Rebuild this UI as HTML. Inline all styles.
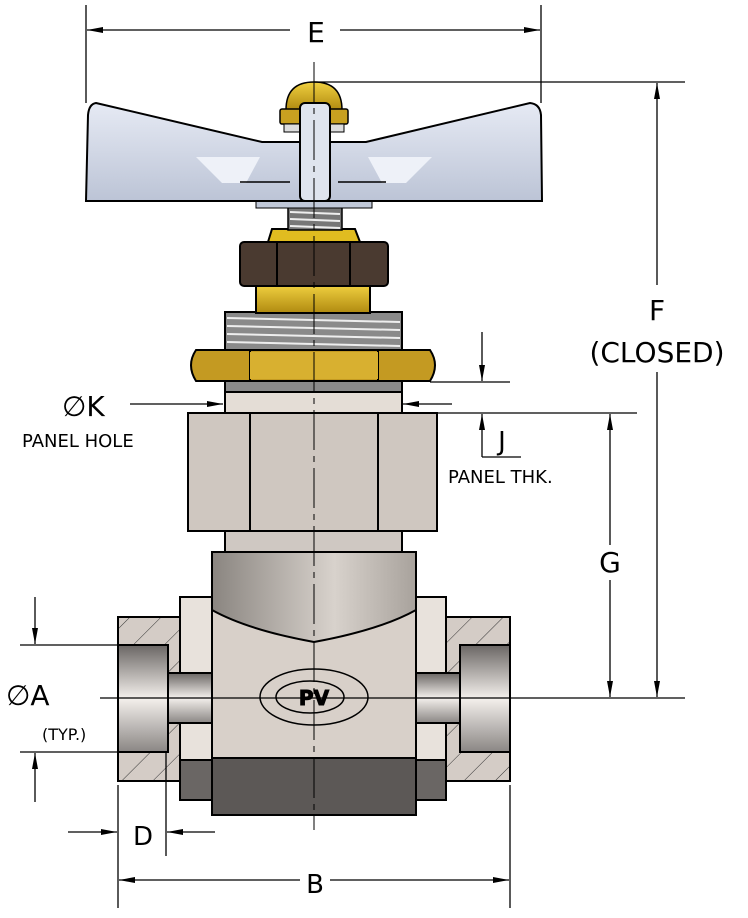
<!DOCTYPE html>
<html><head><style>
html,body{margin:0;padding:0;background:#fff;}
svg{display:block;}
text{font-family:"DejaVu Sans","Liberation Sans",sans-serif;fill:#000;}
</style></head><body>
<svg width="748" height="918" viewBox="0 0 748 918" xmlns="http://www.w3.org/2000/svg">
<defs>
<marker id="ar" viewBox="0 0 16 6" refX="16" refY="3" markerWidth="16" markerHeight="6" markerUnits="userSpaceOnUse" orient="auto"><path d="M0,0L16,3L0,6z" fill="#000"/></marker>
<linearGradient id="dome" x1="0" x2="1"><stop offset="0" stop-color="#8a8580"/><stop offset="0.6" stop-color="#d8d2cc"/><stop offset="1" stop-color="#a8a29c"/></linearGradient>
<linearGradient id="bore" x1="0" y1="0" x2="0" y2="1"><stop offset="0" stop-color="#6a6664"/><stop offset="0.5" stop-color="#f4f0ec"/><stop offset="1" stop-color="#8a8684"/></linearGradient>
<linearGradient id="brass" x1="0" y1="0" x2="0" y2="1"><stop offset="0" stop-color="#f0d040"/><stop offset="1" stop-color="#b08a10"/></linearGradient>
<linearGradient id="handle" x1="0" y1="0" x2="0" y2="1"><stop offset="0" stop-color="#e6eaf4"/><stop offset="1" stop-color="#bcc4d6"/></linearGradient>
<pattern id="hatch" patternUnits="userSpaceOnUse" width="22" height="22" patternTransform="rotate(45)"><rect width="22" height="22" fill="#d4ccc6"/><line x1="0" y1="0" x2="0" y2="22" stroke="#333" stroke-width="1"/></pattern>
</defs>
<g stroke-width="1.3">
<rect x="118" y="617" width="94" height="164" fill="url(#hatch)" stroke="#000" stroke-width="2"/>
<rect x="416" y="617" width="94" height="164" fill="url(#hatch)" stroke="#000" stroke-width="2"/>
<rect x="180" y="597" width="32" height="203" fill="#e8e2dc" stroke="#000" stroke-width="2"/>
<rect x="416" y="597" width="30" height="203" fill="#e8e2dc" stroke="#000" stroke-width="2"/>
<rect x="180" y="760" width="32" height="40" fill="#6a6664" stroke="#000" stroke-width="2"/>
<rect x="416" y="760" width="30" height="40" fill="#6a6664" stroke="#000" stroke-width="2"/>
<rect x="118" y="645" width="50" height="107" fill="url(#bore)" stroke="#000" stroke-width="2"/>
<rect x="460" y="645" width="50" height="107" fill="url(#bore)" stroke="#000" stroke-width="2"/>
<rect x="168" y="673" width="50" height="50" fill="url(#bore)" stroke="#000" stroke-width="2"/>
<rect x="410" y="673" width="50" height="50" fill="url(#bore)" stroke="#000" stroke-width="2"/>
<rect x="212" y="552" width="204" height="263" fill="#d8d0c9" stroke="#000" stroke-width="2"/>
<rect x="212" y="758" width="204" height="57" fill="#5c5856" stroke="#000" stroke-width="2"/>
<path d="M212,552 L416,552 L416,610 Q380,630 314,642 Q248,630 212,610 Z" fill="url(#dome)" stroke="#000" stroke-width="2"/>
<ellipse cx="314" cy="697" rx="54" ry="28" fill="none" stroke="#000" stroke-width="1.5"/>
<ellipse cx="310" cy="697" rx="34" ry="16" fill="none" stroke="#000" stroke-width="1.5"/>
<text x="314" y="705" font-size="20" font-weight="bold" text-anchor="middle" fill="none" stroke="#000" stroke-width="1">PV</text>
<rect x="225" y="530" width="177" height="22" fill="#cfc8c2" stroke="#000" stroke-width="2"/>
<rect x="188" y="413" width="249" height="118" fill="#cfc7c0" stroke="#000" stroke-width="2"/>
<line x1="250" y1="413" x2="250" y2="531" stroke="#000" stroke-width="2"/>
<line x1="378" y1="413" x2="378" y2="531" stroke="#000" stroke-width="2"/>
<rect x="225" y="390" width="177" height="23" fill="#e4ddd6" stroke="#000" stroke-width="2"/>
<rect x="225" y="312" width="177" height="42" fill="#8a8a8a" stroke="#000" stroke-width="2"/>
<g stroke="#eee" stroke-width="2"><line x1="227" y1="318" x2="400" y2="322"/><line x1="227" y1="326" x2="400" y2="330"/><line x1="227" y1="334" x2="400" y2="338"/><line x1="227" y1="342" x2="400" y2="346"/></g>
<rect x="225" y="378" width="177" height="14" fill="#8a8a8a" stroke="#000" stroke-width="2"/>
<path d="M196,350 L430,350 Q440,365 430,381 L196,381 Q186,365 196,350Z" fill="#c49a22" stroke="#000" stroke-width="2"/>
<line x1="250" y1="350" x2="250" y2="381" stroke="#000" stroke-width="2"/>
<line x1="378" y1="350" x2="378" y2="381" stroke="#000" stroke-width="2"/>
<rect x="250" y="352" width="128" height="27" fill="#d8b030"/>
<rect x="256" y="285" width="114" height="28" fill="url(#brass)" stroke="#000" stroke-width="2"/>
<rect x="240" y="242" width="148" height="44" rx="4" fill="#4a3a30" stroke="#000" stroke-width="2"/>
<line x1="277" y1="242" x2="277" y2="286" stroke="#000" stroke-width="2"/>
<line x1="350" y1="242" x2="350" y2="286" stroke="#000" stroke-width="2"/>
<path d="M268,242 L272,229 L355,229 L360,242 Z" fill="#e0bc20" stroke="#000" stroke-width="2"/>
<rect x="288" y="207" width="54" height="23" fill="#777" stroke="#000" stroke-width="1.5"/>
<g stroke="#eee" stroke-width="2"><line x1="290" y1="212" x2="340" y2="214"/><line x1="290" y1="219" x2="340" y2="221"/><line x1="290" y1="226" x2="340" y2="228"/></g>
<rect x="256" y="200" width="116" height="8" fill="#c0c8d8" stroke="#000" stroke-width="1"/>
<path d="M96,103 L262,142 L366,142 L530,103 Q540,104 541,115 L542,201 L86,201 L88,115 Q89,104 96,103Z" fill="url(#handle)" stroke="#000" stroke-width="2"/>
<path d="M196,157 L260,157 L246,183 L222,183 Z" fill="#eef1f8"/>
<path d="M368,157 L432,157 L406,183 L382,183 Z" fill="#eef1f8"/>
<line x1="240" y1="182" x2="290" y2="182" stroke="#000" stroke-width="1.5"/>
<line x1="338" y1="182" x2="386" y2="182" stroke="#000" stroke-width="1.5"/>
<path d="M286,110 Q286,82 314,82 Q342,82 342,110 Z" fill="url(#brass)" stroke="#000" stroke-width="1.5"/>
<rect x="280" y="109" width="68" height="15" rx="2" fill="#c8a020" stroke="#000" stroke-width="1.5"/>
<rect x="284" y="124" width="60" height="8" fill="#ddd" stroke="#000" stroke-width="1"/>
<rect x="300" y="103" width="30" height="98" rx="5" fill="#dfe4ee" stroke="#000" stroke-width="2"/>

<line x1="314" y1="62" x2="314" y2="830" stroke="#000" stroke-width="1" stroke-dasharray="40,6,6,6"/>
<line x1="100" y1="698" x2="685" y2="698" stroke="#000"/>

<line x1="86" y1="5" x2="86" y2="103" stroke="#000"/>
<line x1="541" y1="5" x2="541" y2="103" stroke="#000"/>
<line x1="290" y1="30" x2="87" y2="30" stroke="#000" marker-end="url(#ar)"/>
<line x1="340" y1="30" x2="540" y2="30" stroke="#000" marker-end="url(#ar)"/>
<text x="316" y="42" font-size="28" text-anchor="middle">E</text>

<line x1="314" y1="82" x2="685" y2="82" stroke="#000"/>
<line x1="657" y1="285" x2="657" y2="83" stroke="#000" marker-end="url(#ar)"/>
<line x1="657" y1="372" x2="657" y2="697" stroke="#000" marker-end="url(#ar)"/>
<text x="657" y="320" font-size="28" text-anchor="middle">F</text>
<text x="657" y="362" font-size="28" text-anchor="middle">(CLOSED)</text>

<line x1="405" y1="413" x2="637" y2="413" stroke="#000"/>
<line x1="610" y1="545" x2="610" y2="414" stroke="#000" marker-end="url(#ar)"/>
<line x1="610" y1="580" x2="610" y2="697" stroke="#000" marker-end="url(#ar)"/>
<text x="610" y="572" font-size="28" text-anchor="middle">G</text>

<line x1="430" y1="382" x2="510" y2="382" stroke="#000"/>
<line x1="482" y1="332" x2="482" y2="381" stroke="#000" marker-end="url(#ar)"/>
<line x1="482" y1="457" x2="482" y2="414" stroke="#000" marker-end="url(#ar)"/>
<line x1="482" y1="457" x2="521" y2="457" stroke="#000"/>
<text x="502" y="450" font-size="26" text-anchor="middle">J</text>
<text x="448" y="483" font-size="18">PANEL THK.</text>

<line x1="130" y1="404" x2="223" y2="404" stroke="#000" marker-end="url(#ar)"/>
<line x1="452" y1="404" x2="403" y2="404" stroke="#000" marker-end="url(#ar)"/>
<text x="62" y="416" font-size="28">∅K</text>
<text x="22" y="447" font-size="18">PANEL HOLE</text>

<line x1="20" y1="645" x2="118" y2="645" stroke="#000"/>
<line x1="20" y1="752" x2="118" y2="752" stroke="#000"/>
<line x1="35" y1="597" x2="35" y2="644" stroke="#000" marker-end="url(#ar)"/>
<line x1="35" y1="802" x2="35" y2="753" stroke="#000" marker-end="url(#ar)"/>
<text x="6" y="705" font-size="28">∅A</text>
<text x="42" y="740" font-size="16">(TYP.)</text>

<line x1="118" y1="785" x2="118" y2="908" stroke="#000"/>
<line x1="166" y1="752" x2="166" y2="856" stroke="#000"/>
<line x1="68" y1="832" x2="117" y2="832" stroke="#000" marker-end="url(#ar)"/>
<line x1="215" y1="832" x2="167" y2="832" stroke="#000" marker-end="url(#ar)"/>
<text x="143" y="845" font-size="26" text-anchor="middle">D</text>

<line x1="510" y1="785" x2="510" y2="908" stroke="#000"/>
<line x1="300" y1="880" x2="119" y2="880" stroke="#000" marker-end="url(#ar)"/>
<line x1="330" y1="880" x2="509" y2="880" stroke="#000" marker-end="url(#ar)"/>
<text x="315" y="893" font-size="26" text-anchor="middle">B</text>
</g>
</svg>
</body></html>
